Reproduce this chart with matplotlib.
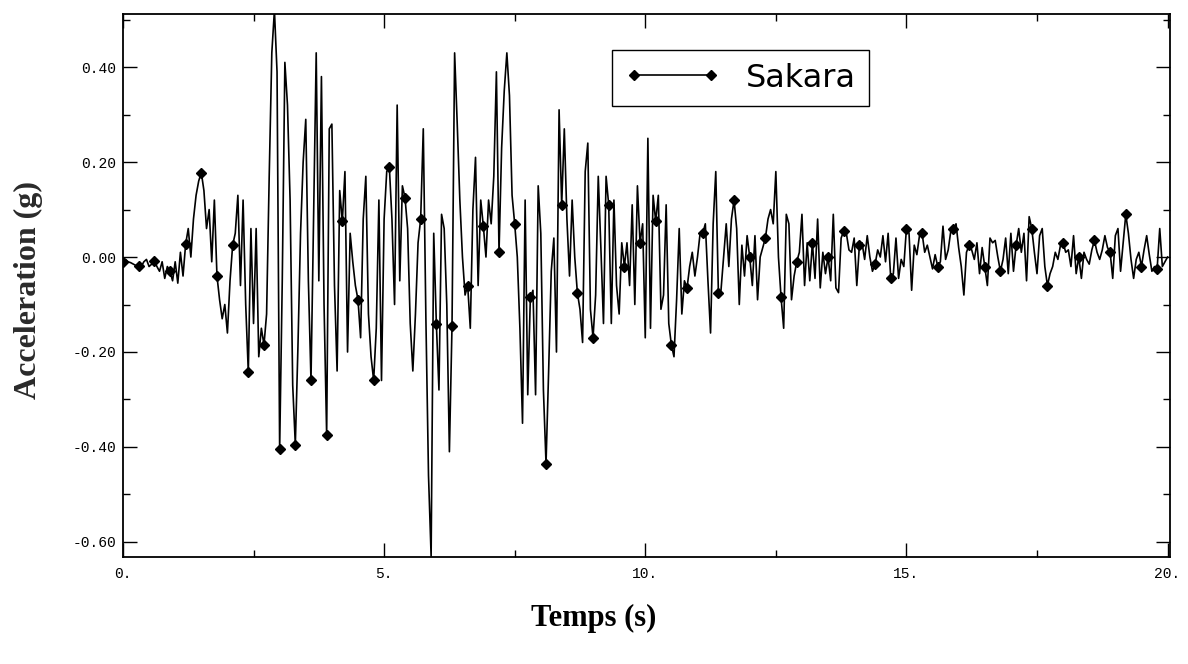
import numpy as np
import matplotlib
matplotlib.use("Agg")
import matplotlib.pyplot as plt
from matplotlib.ticker import MultipleLocator, FuncFormatter

# sampling step of the record (s); a marker is drawn every 6th sample (0.3 s)
dt = 0.05
mark_step = 6

# acceleration (g), in 3 s pieces
acc_00_03 = [
    -0.01, -0.005, -0.01, -0.012, -0.015, -0.018,
    -0.018, -0.02, -0.01, -0.005, -0.02, -0.015,
    -0.008, -0.02, -0.03, -0.01, -0.045, -0.02,
    -0.03, -0.05, -0.01, -0.055, 0.01, -0.04,
    0.027, 0.06, 0.0, 0.08, 0.13, 0.16,
    0.178, 0.14, 0.06, 0.10, -0.01, 0.12,
    -0.04, -0.09, -0.13, -0.10, -0.16, -0.05,
    0.025, 0.05, 0.13, -0.06, 0.12, -0.10,
    -0.243, 0.06, -0.14, 0.06, -0.21, -0.15,
    -0.185, -0.12, 0.17, 0.43, 0.52, 0.39,
]
acc_03_06 = [
    -0.405, -0.05, 0.41, 0.32, 0.12, -0.27,
    -0.395, -0.19, 0.05, 0.20, 0.29, -0.05,
    -0.26, 0.09, 0.43, -0.05, 0.38, -0.10,
    -0.375, 0.27, 0.28, -0.06, -0.24, 0.14,
    0.075, 0.18, -0.20, 0.05, -0.01, -0.06,
    -0.09, -0.17, 0.08, 0.17, -0.12, -0.21,
    -0.26, -0.15, 0.12, -0.26, 0.08, 0.18,
    0.19, 0.08, -0.10, 0.32, -0.05, 0.15,
    0.125, 0.06, -0.14, -0.24, -0.12, 0.03,
    0.08, 0.27, -0.13, -0.46, -0.63, 0.05,
]
acc_06_09 = [
    -0.14, -0.28, 0.09, 0.06, -0.10, -0.41,
    -0.145, 0.43, 0.28, 0.12, 0.0, -0.08,
    -0.06, -0.15, 0.10, 0.21, -0.06, 0.12,
    0.065, 0.0, 0.12, 0.07, 0.17, 0.39,
    0.01, 0.23, 0.35, 0.43, 0.34, 0.13,
    0.07, 0.0, -0.15, -0.35, 0.12, -0.29,
    -0.085, -0.07, -0.29, 0.15, 0.05, -0.28,
    -0.435, -0.24, -0.03, 0.04, -0.20, 0.31,
    0.11, 0.27, 0.08, -0.04, 0.12, 0.0,
    -0.075, -0.11, -0.18, 0.18, 0.24, -0.11,
]
acc_09_12 = [
    -0.17, -0.08, 0.17, 0.02, -0.14, 0.17,
    0.11, -0.14, 0.12, -0.06, -0.12, 0.03,
    -0.02, 0.03, -0.06, 0.11, -0.10, 0.15,
    0.03, 0.07, -0.17, 0.25, -0.15, 0.13,
    0.075, 0.13, -0.11, -0.08, 0.11, -0.14,
    -0.185, -0.21, -0.09, 0.06, -0.12, -0.05,
    -0.065, -0.02, 0.01, -0.04, 0.0, 0.05,
    0.05, 0.07, -0.05, -0.16, 0.07, 0.18,
    -0.075, -0.07, 0.0, 0.07, -0.02, 0.08,
    0.12, 0.06, -0.10, 0.025, -0.04, 0.045,
]
acc_12_15 = [
    0.0, -0.06, 0.045, -0.09, 0.0, 0.02,
    0.04, 0.08, 0.10, 0.07, 0.18, 0.0,
    -0.085, -0.15, 0.09, 0.07, -0.09, -0.04,
    -0.01, 0.01, 0.09, -0.06, 0.03, -0.05,
    0.03, -0.045, 0.08, -0.065, 0.01, -0.035,
    0.0, -0.05, 0.09, -0.065, -0.075, 0.04,
    0.055, 0.05, 0.015, 0.01, 0.04, -0.06,
    0.025, 0.03, -0.005, 0.045, 0.0, -0.03,
    -0.015, 0.015, 0.0, 0.045, -0.01, 0.05,
    -0.045, -0.035, 0.04, -0.045, -0.005, -0.02,
]
acc_15_18 = [
    0.06, 0.05, -0.07, 0.025, 0.005, 0.045,
    0.05, 0.01, 0.025, 0.0, -0.025, 0.005,
    -0.02, -0.01, 0.065, -0.005, 0.015, 0.055,
    0.06, 0.07, 0.02, -0.02, -0.08, 0.01,
    0.025, 0.015, -0.005, 0.03, -0.035, 0.02,
    -0.02, -0.06, 0.04, 0.03, 0.035, 0.0,
    -0.03, -0.005, 0.04, -0.035, 0.05, -0.03,
    0.025, 0.06, 0.01, 0.05, -0.05, 0.085,
    0.06, 0.01, -0.035, 0.045, 0.06, -0.02,
    -0.06, -0.035, -0.02, 0.01, -0.005, 0.025,
]
acc_18_20 = [
    0.03, 0.01, 0.015, -0.02, 0.045, -0.035,
    0.0, -0.045, 0.01, -0.005, -0.015, 0.015,
    0.035, 0.01, -0.005, 0.015, 0.045, 0.02,
    0.01, -0.045, 0.045, 0.06, -0.03, 0.03,
    0.09, 0.05, -0.005, -0.045, -0.005, 0.01,
    -0.02, 0.015, 0.045, 0.005, -0.03, -0.02,
    -0.025, 0.06, -0.02, -0.01, 0.0,
]

acc = np.array(acc_00_03 + acc_03_06 + acc_06_09 + acc_09_12
               + acc_12_15 + acc_15_18 + acc_18_20)
t = np.arange(len(acc)) * dt

x_ticks = [0, 5, 10, 15, 20]
y_ticks = [-0.60, -0.40, -0.20, 0.00, 0.20, 0.40]

fig = plt.figure(figsize=(11.88, 6.64), dpi=100)
ax = fig.add_axes([0.1035, 0.161, 0.8815, 0.818])

ax.plot(t, acc, color="black", lw=1.2, marker="D", markersize=5.5,
        markevery=mark_step, label="Sakara")

ax.set_xlim(0, 20.05)
ax.set_ylim(-0.632, 0.512)

ax.set_xticks(x_ticks)
ax.set_yticks(y_ticks)
ax.xaxis.set_minor_locator(MultipleLocator(2.5))
ax.yaxis.set_minor_locator(MultipleLocator(0.1))
ax.xaxis.set_major_formatter(FuncFormatter(lambda v, p: "%d." % round(v)))
ax.yaxis.set_major_formatter(FuncFormatter(lambda v, p: "%.2f" % v if abs(v) > 1e-9 else "0.00"))

ax.tick_params(which="both", direction="in", top=True, right=True, width=1.0)
ax.tick_params(which="major", length=10)
ax.tick_params(which="minor", length=5)
ax.tick_params(axis="y", pad=5)
ax.tick_params(axis="x", pad=7)
for lab in ax.get_xticklabels() + ax.get_yticklabels():
    lab.set_family("Liberation Mono")
    lab.set_fontsize(10.5)
for sp in ax.spines.values():
    sp.set_linewidth(1.3)

leg = ax.legend(loc="upper left", bbox_to_anchor=(0.467, 0.934), numpoints=2,
                handlelength=3.0, fancybox=False, framealpha=1, edgecolor="black",
                prop={"family": "DejaVu Sans", "size": 23}, borderpad=0.4,
                handletextpad=0.8, borderaxespad=0)
leg.get_frame().set_linewidth(1.0)

fig.text(28 / 1188, 1 - 290 / 664, "Acceleration (g)", rotation=90, ha="center", va="center",
         family="Liberation Serif", fontweight="bold", fontsize=23, color="#2a2a2a")
fig.text(0.5, 1 - 618 / 664, "Temps (s)", ha="center", va="center",
         family="Liberation Serif", fontweight="bold", fontsize=22)

fig.savefig("out.png", dpi=100)
